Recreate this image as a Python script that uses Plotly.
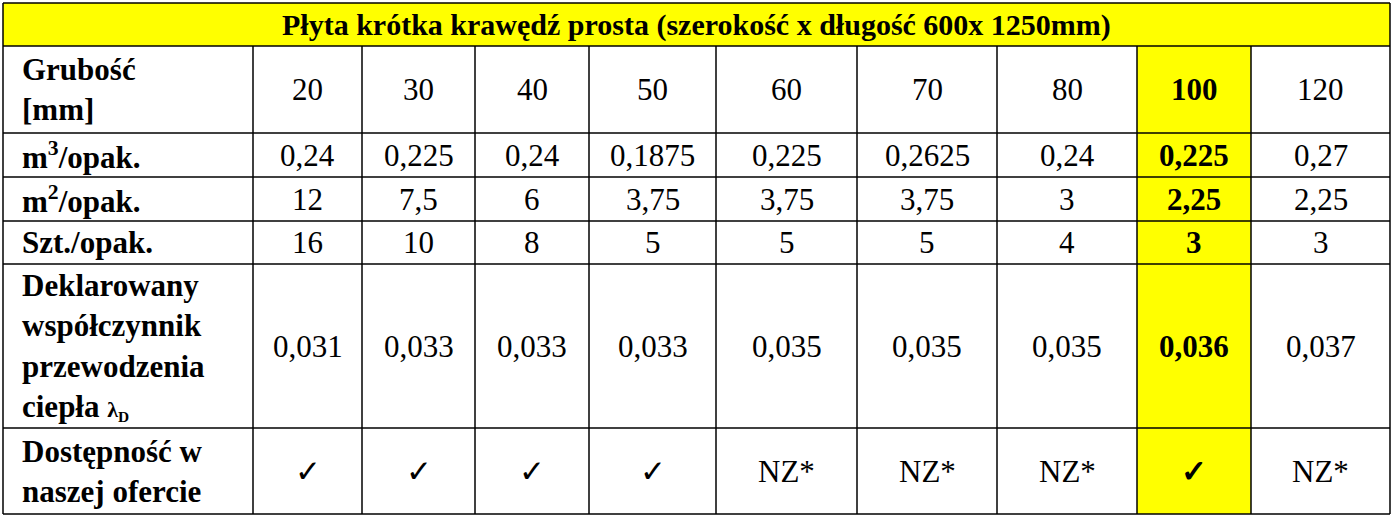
import plotly.graph_objects as go

title = "Płyta krótka krawędź prosta (szerokość x długość 600x 1250mm)"
row_labels = ["Grubość<br>[mm]", "m<sup>3</sup>/opak.", "m<sup>2</sup>/opak.", "Szt./opak.",
              "Deklarowany<br>współczynnik<br>przewodzenia<br>ciepła <span style='font-size:22px'>λ<sub>D</sub></span>",
              "Dostępność w<br>naszej ofercie"]
thickness = ["20", "30", "40", "50", "60", "70", "80", "100", "120"]
m3 = ["0,24", "0,225", "0,24", "0,1875", "0,225", "0,2625", "0,24", "0,225", "0,27"]
m2 = ["12", "7,5", "6", "3,75", "3,75", "3,75", "3", "2,25", "2,25"]
szt = ["16", "10", "8", "5", "5", "5", "4", "3", "3"]
lam = ["0,031", "0,033", "0,033", "0,033", "0,035", "0,035", "0,035", "0,036", "0,037"]
avail = ["✓", "✓", "✓", "✓", "NZ*", "NZ*", "NZ*", "✓", "NZ*"]
highlight = "100"

W, H = 1393, 516
xs = [3, 253, 362, 475, 589, 716, 857, 997, 1137, 1251, 1390]
ys = [3, 46, 133, 177, 221, 264, 428, 514]
font = "Liberation Serif"
YEL = "#ffff00"

shapes, ann = [], []
shapes.append(dict(type="rect", x0=xs[0], x1=xs[-1], y0=ys[0], y1=ys[1], fillcolor=YEL, line_width=0, layer="below"))
hi = thickness.index(highlight) + 1
shapes.append(dict(type="rect", x0=xs[hi], x1=xs[hi+1], y0=ys[1], y1=ys[-1], fillcolor=YEL, line_width=0, layer="below"))
for y in ys:
    shapes.append(dict(type="line", x0=xs[0], x1=xs[-1], y0=y, y1=y, line=dict(color="black", width=1.5)))
for i, x in enumerate(xs):
    y0 = ys[0] if i in (0, len(xs)-1) else ys[1]
    shapes.append(dict(type="line", x0=x, x1=x, y0=y0, y1=ys[-1], line=dict(color="black", width=1.5)))

ann.append(dict(x=(xs[0]+xs[-1])/2, y=(ys[0]+ys[1])/2, text="<b>"+title+"</b>", showarrow=False,
                font=dict(family=font, size=30, color="black")))
rows = [thickness, m3, m2, szt, lam, avail]
for r, (lab, vals) in enumerate(zip(row_labels, rows)):
    yc = (ys[r+1]+ys[r+2])/2
    ann.append(dict(x=20, y=yc, xanchor="left", text="<b>"+lab+"</b>", align="left", showarrow=False,
                    font=dict(family=font, size=31, color="black")))
    for c, v in enumerate(vals):
        t = "<b>"+v+"</b>" if thickness[c] == highlight else v
        ann.append(dict(x=(xs[c+1]+xs[c+2])/2, y=yc, text=t, showarrow=False,
                        font=dict(family=font, size=31, color="black")))

fig = go.Figure()
fig.update_layout(width=W, height=H, margin=dict(l=0, r=0, t=0, b=0), paper_bgcolor="white", plot_bgcolor="white",
                  xaxis=dict(range=[0, W], visible=False, fixedrange=True),
                  yaxis=dict(range=[H, 0], visible=False, fixedrange=True),
                  shapes=shapes, annotations=ann, showlegend=False)
fig.write_html("out.html", config={"displayModeBar": False},
               post_script="document.body.style.margin='0';document.body.style.overflow='hidden';")
